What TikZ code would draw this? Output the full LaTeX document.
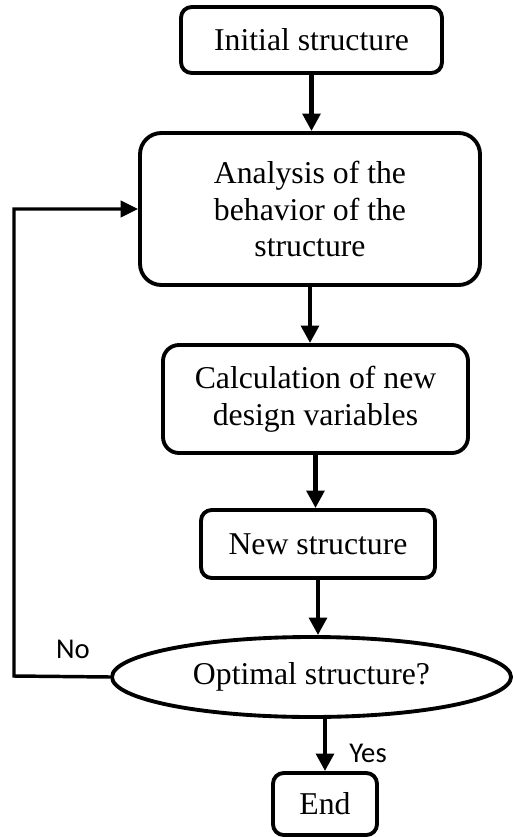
\documentclass[tikz,border=0pt]{standalone}
\usepackage{fontspec}
\setmainfont{Liberation Serif}
\newfontfamily\labelfont{Carlito}
\usetikzlibrary{shapes.geometric,arrows.meta}
\begin{document}
\begin{tikzpicture}[x=0.75pt,y=-0.75pt,
  every node/.style={font=\fontsize{23.8pt}{27.6pt}\selectfont, align=center, inner sep=0pt},
  stepbox/.style={draw, line width=2.9pt, rectangle, rounded corners=#1},
  stepbox/.default=10pt,
  decision/.style={draw, line width=2.9pt, ellipse},
  flow/.style={line width=3.6pt, -{Triangle[length=13pt,width=13pt]}},
  back/.style={line width=2.6pt, -{Triangle[length=13pt,width=12pt]}},
  answer/.style={font=\labelfont\fontsize{21.5pt}{24pt}\selectfont}]
\useasboundingbox (0,0) rectangle (512,837);

% process steps
\node[stepbox=8pt, minimum width=195.75pt, minimum height=49.5pt] (init) at (311.5,40) {Initial structure};
\node[stepbox=16pt, minimum width=255pt, minimum height=114pt] (analysis) at (310,209)
  {Analysis of the\\behavior of the\\structure};
\node[stepbox=12pt, minimum width=228.75pt, minimum height=81pt] (calc) at (315.5,399)
  {Calculation of new\\design variables};
\node[stepbox=8pt, minimum width=175.5pt, minimum height=51pt] (newst) at (318,544) {New structure};
\node[decision, minimum width=299.25pt, minimum height=60pt] (optimal) at (311.5,677) {Optimal structure?};
\node[stepbox=8pt, minimum width=78pt, minimum height=46.5pt] (finish) at (325,804) {End};

% forward flow
\draw[flow] (init.south) -- (init.south |- analysis.north);
\draw[flow] (analysis.south) -- (analysis.south |- calc.north);
\draw[flow] (calc.south) -- (calc.south |- newst.north);
\draw[flow] (newst.south) -- (newst.south |- optimal.north);
\draw[flow] (finish.north |- optimal.south) -- (finish.north);

% loop back when the structure is not optimal
\coordinate (turn) at (14,676);
\draw[back] (optimal.west) -- (turn) |- (analysis.west);

% branch labels
\node[answer] (no) at (73,649) {No};
\node[answer] (yes) at (368,753) {Yes};
\end{tikzpicture}
\end{document}
